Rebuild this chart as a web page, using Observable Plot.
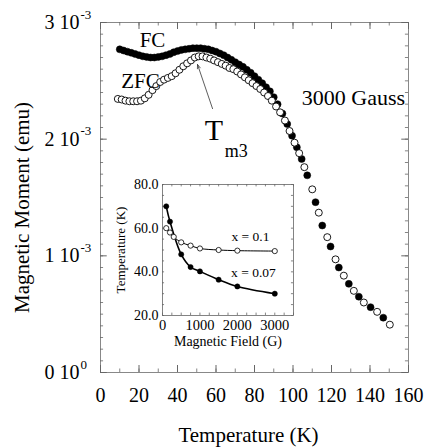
<!DOCTYPE html>
<html><head><meta charset="utf-8">
<script src="https://cdn.jsdelivr.net/npm/d3@7"></script>
<script src="https://cdn.jsdelivr.net/npm/@observablehq/plot@0.6"></script>
<style>
body{margin:0;background:#fff;font-family:"Liberation Serif";}
#wrap{position:relative;width:425px;height:447px;}
#inset{position:absolute;left:100px;top:165px;}
</style></head><body><div id="wrap"></div>
<script>
// ---- Main chart data (moment in units of 1e-3 emu) ----
const fcT = [10,12,14,16,18,20,22,24,26,28,30,32,34,36,38,40,42,44,46,48,50,52,54,56,58,60,62,64,66,68,70,72,74,76,78,80,82,84,86,88,90,92,94.5,97,99.5,102,104.5,107.4,111.7,115.2,119.5,123.8,129,134.2,140.3,146.9];
const fcM = [2.77,2.76,2.75,2.74,2.73,2.72,2.71,2.705,2.70,2.70,2.705,2.71,2.72,2.73,2.745,2.755,2.765,2.77,2.775,2.78,2.78,2.78,2.775,2.77,2.76,2.75,2.735,2.72,2.70,2.68,2.66,2.64,2.62,2.595,2.57,2.54,2.51,2.48,2.445,2.41,2.36,2.30,2.22,2.13,2.03,1.93,1.83,1.69,1.46,1.26,1.08,0.90,0.76,0.65,0.56,0.47];
const zfcT = [9,11,13,15,17,19,21,23,25,27,29,31,33,35,37,39,41,43,45,47,49,51,53,55,57,59,61,63,65,67,69,71,73,75,77,79,81,83,85,87,89,91.2,93.3,95.8,98.2,100.8,103.2,105.9,110,113.4,117.8,122.1,126.4,131.6,136.8,143.7,150.3];
const zfcM = [2.345,2.34,2.33,2.325,2.325,2.325,2.33,2.35,2.38,2.42,2.455,2.49,2.51,2.525,2.54,2.565,2.595,2.625,2.65,2.675,2.70,2.71,2.71,2.70,2.69,2.675,2.66,2.645,2.63,2.61,2.60,2.58,2.555,2.53,2.505,2.48,2.455,2.43,2.40,2.37,2.33,2.28,2.23,2.16,2.07,1.97,1.88,1.76,1.57,1.37,1.16,0.97,0.83,0.70,0.60,0.52,0.41];

const xTickVals = [0,20,40,60,80,100,120,140,160];
const xMinorTicks = [0,10,20,30,40,50,60,70,80,90,100,110,120,130,140,150,160];
const yTickVals = [0,1,2,3];
const yTickMant = ["0","1","2","3"];
const yTickExp = ["0","-3","-3","-3"];
const yMinorTicks = [0,0.1,0.2,0.3,0.4,0.5,0.6,0.7,0.8,0.9,1,1.1,1.2,1.3,1.4,1.5,1.6,1.7,1.8,1.9,2,2.1,2.2,2.3,2.4,2.5,2.6,2.7,2.8,2.9,3];
const xTitle = "Temperature (K)";
const yTitle = "Magnetic Moment (emu)";

const labelText = ["FC","ZFC","3000 Gauss"];
const labelT = [27,20.8,131.4];
const labelM = [2.845,2.50,2.357];
const labelSize = [21,21,22];
const tmText = ["T","m3"];
const tmT = [58.9,70.5];
const tmM = [2.075,1.894];
const tmSize = [30,18];
const arrowFrom = [58.2,2.262];
const arrowTo = [50.4,2.64];

// ---- Inset data ----
const insetField07 = [100,200,500,750,1000,1500,2000,3000];
const insetTemp07 = [70,63,48,42.2,40.2,36.4,33.3,30];
const insetField10 = [100,200,300,500,750,1000,1500,2000,3000];
const insetTemp10 = [60,58,56,53.5,52,50.7,50,49.7,49.5];
const insetXTicks = [0,1000,2000,3000];
const insetYTicks = [20,40,60,80];
const insetXMinor = [0,250,500,750,1000,1250,1500,1750,2000,2250,2500,2750,3000,3250,3500];
const insetYMinor = [20,25,30,35,40,45,50,55,60,65,70,75,80];
const insetLabels = ["x = 0.1","x = 0.07"];
const insetLabelX = [2351,2431];
const insetLabelY = [55.9,39.8];
const insetXTitle = "Magnetic Field (G)";
const insetYTitle = "Temperature (K)";

const fc = fcT.map((t,i)=>({t, m: fcM[i]}));
const zfc = zfcT.map((t,i)=>({t, m: zfcM[i]}));
const labels = labelText.map((s,i)=>({s, t: labelT[i], m: labelM[i], size: labelSize[i]}));
const tm = tmText.map((s,i)=>({s, t: tmT[i], m: tmM[i], size: tmSize[i]}));

const font = "Liberation Serif";
const tc = "#666";

const main = Plot.plot({
  width: 425, height: 447,
  marginLeft: 100, marginRight: 17, marginTop: 22, marginBottom: 75,
  style: {fontFamily: font, background: "white", color: "black"},
  x: {domain: [0,160], axis: null},
  y: {domain: [0,3], axis: null},
  marks: [
    Plot.frame({stroke: "#888", strokeWidth: 1}),
    Plot.ruleY(yMinorTicks, {y: d=>d, x1: 0, x2: 1.6, stroke: tc, strokeWidth: 0.8}),
    Plot.ruleY(yMinorTicks, {y: d=>d, x1: 158.4, x2: 160, stroke: tc, strokeWidth: 0.8}),
    Plot.ruleY(yTickVals, {y: d=>d, x1: 0, x2: 3.5, stroke: tc}),
    Plot.ruleY(yTickVals, {y: d=>d, x1: 156.5, x2: 160, stroke: tc}),
    Plot.ruleX(xMinorTicks, {x: d=>d, y1: 0, y2: 0.03, stroke: tc, strokeWidth: 0.8}),
    Plot.ruleX(xMinorTicks, {x: d=>d, y1: 2.97, y2: 3, stroke: tc, strokeWidth: 0.8}),
    Plot.ruleX(xTickVals, {x: d=>d, y1: 0, y2: 0.06, stroke: tc}),
    Plot.ruleX(xTickVals, {x: d=>d, y1: 2.94, y2: 3, stroke: tc}),
    Plot.text(yTickVals, {x: 0, y: d=>d, text: (d,i)=>yTickMant[i] + " 10", dx: -21, textAnchor: "end", fontSize: 20, fontFamily: font}),
    Plot.text(yTickVals, {x: 0, y: d=>d, text: (d,i)=>yTickExp[i], dx: -20, dy: -8, textAnchor: "start", fontSize: 13, fontFamily: font}),
    Plot.text(xTickVals, {x: d=>d, y: 0, dy: 23, textAnchor: "middle", fontSize: 20, fontFamily: font}),
    Plot.text([xTitle], {frameAnchor: "bottom", text: d=>d, textAnchor: "middle", lineAnchor: "middle", dx: -6, dy: 63, fontSize: 21, fontFamily: font}),
    Plot.text([yTitle], {frameAnchor: "left", text: d=>d, textAnchor: "middle", lineAnchor: "middle", rotate: -90, dx: -78, dy: 10, fontSize: 21, fontFamily: font}),
    Plot.dot(fc, {x: "t", y: "m", r: 3.5, fill: "black", stroke: "black", strokeWidth: 0.5}),
    Plot.dot(zfc, {x: "t", y: "m", r: 3.5, fill: "white", stroke: "black", strokeWidth: 0.9}),
    Plot.arrow([0], {x1: arrowFrom[0], y1: arrowFrom[1], x2: arrowTo[0], y2: arrowTo[1], stroke: "#333", strokeWidth: 0.8, headLength: 8, headAngle: 40}),
    Plot.text(labels, {x: "t", y: "m", text: "s", fontSize: "size", textAnchor: "middle", fontFamily: font}),
    Plot.text(tm, {x: "t", y: "m", text: "s", fontSize: "size", textAnchor: "middle", fontFamily: font})
  ]
});

const fd07 = insetField07.map((f,i)=>({f, T: insetTemp07[i]}));
const fd10 = insetField10.map((f,i)=>({f, T: insetTemp10[i]}));
const ilabels = insetLabels.map((s,i)=>({s, x: insetLabelX[i], y: insetLabelY[i]}));

const inset = Plot.plot({
  width: 200, height: 190,
  marginLeft: 62, marginRight: 7, marginTop: 19, marginBottom: 40,
  style: {fontFamily: font, background: "transparent", color: "black", overflow: "visible"},
  x: {domain: [0,3500], axis: null},
  y: {domain: [20,80], axis: null},
  marks: [
    Plot.frame({stroke: "#777", strokeWidth: 0.9}),
    Plot.ruleY(insetYMinor, {y: d=>d, x1: 0, x2: 55, stroke: tc, strokeWidth: 0.8}),
    Plot.ruleY(insetYMinor, {y: d=>d, x1: 3445, x2: 3500, stroke: tc, strokeWidth: 0.8}),
    Plot.ruleX(insetXMinor, {x: d=>d, y1: 20, y2: 21.1, stroke: tc, strokeWidth: 0.8}),
    Plot.ruleX(insetXMinor, {x: d=>d, y1: 78.9, y2: 80, stroke: tc, strokeWidth: 0.8}),
    Plot.text(insetYTicks, {x: 0, y: d=>d, text: d=>d.toFixed(1), dx: -4, textAnchor: "end", fontSize: 14, fontFamily: font}),
    Plot.text(insetXTicks, {x: d=>d, y: 20, text: d=>String(d), dy: 10, textAnchor: "middle", fontSize: 14.5, fontFamily: font}),
    Plot.text([insetXTitle], {frameAnchor: "bottom", text: d=>d, textAnchor: "middle", lineAnchor: "middle", dy: 26, fontSize: 14, fontFamily: font}),
    Plot.text([insetYTitle], {frameAnchor: "left", text: d=>d, textAnchor: "middle", lineAnchor: "middle", rotate: -90, dx: -42, fontSize: 13, fontFamily: font}),
    Plot.line(fd10, {x: "f", y: "T", curve: "catmull-rom", stroke: "black", strokeWidth: 1}),
    Plot.line(fd07, {x: "f", y: "T", curve: "catmull-rom", stroke: "black", strokeWidth: 1.6}),
    Plot.dot(fd07, {x: "f", y: "T", r: 2.6, fill: "black", stroke: "black", strokeWidth: 0.5}),
    Plot.dot(fd10, {x: "f", y: "T", r: 2.6, fill: "white", stroke: "black", strokeWidth: 0.8}),
    Plot.text(ilabels, {x: "x", y: "y", text: "s", fontSize: 13.5, textAnchor: "middle", fontFamily: font})
  ]
});
inset.id = "inset";
const wrap = document.getElementById("wrap");
wrap.appendChild(main);
wrap.appendChild(inset);
d3.selectAll("svg text").attr("font-family", font).style("font-family", font);
</script></body></html>
